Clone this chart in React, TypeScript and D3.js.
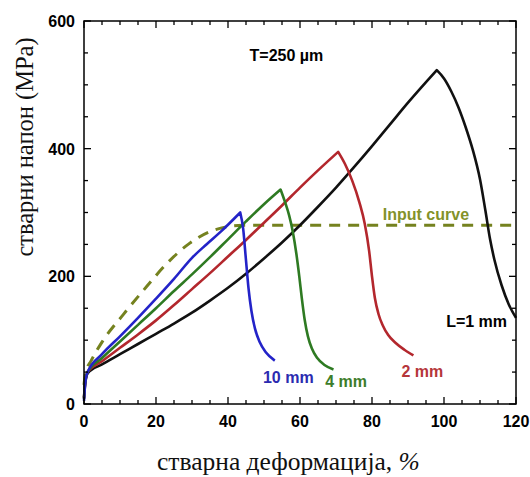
import React from "react";
import * as d3 from "d3";

const WIDTH = 530;
const HEIGHT = 477;

// stress-strain curves: [strain %, stress MPa]
const curve1mm: [number, number][] = [
  [0, 8], [0.3, 30], [1, 48], [5, 62], [10, 78], [15, 94], [20, 110],
  [25, 126], [30, 143], [35, 162], [40, 182], [45, 204], [50, 228],
  [55, 253], [60, 280], [65, 309], [70, 339], [75, 371], [80, 404],
  [85, 438], [90, 472], [98, 523],
  [100, 510], [102, 490], [104, 465], [106, 434], [108, 398], [110, 352],
  [111.5, 303], [112.8, 258], [114, 226], [116, 186], [118, 156], [120, 135],
];
const curve2mm: [number, number][] = [
  [0, 10], [0.3, 32], [1, 50], [5, 67], [10, 88], [15, 109], [20, 131],
  [25, 155], [30, 180], [35, 205], [40, 231], [45, 257], [50, 284],
  [55, 311], [60, 339], [65, 366], [70.6, 395],
  [72.5, 376], [74.5, 350], [76.5, 316], [78, 282], [79.2, 240],
  [80, 200], [80.8, 166], [81.8, 141], [83, 123], [84.5, 108],
  [86.5, 96], [89, 85], [91.5, 76],
];
const curve4mm: [number, number][] = [
  [0, 10], [0.3, 33], [1, 50], [5, 72], [10, 98], [15, 124], [20, 150],
  [25, 177], [30, 203], [35, 230], [40, 258], [45, 286], [50, 313],
  [54.6, 336],
  [55.8, 317], [57, 295], [58, 270], [59, 235], [59.8, 200], [60.5, 166],
  [61.3, 132], [62.2, 106], [63.3, 87], [64.8, 72], [66.8, 61], [69.3, 54],
];
const curve10mm: [number, number][] = [
  [0, 5], [0.3, 30], [1, 50], [5, 78], [10, 106], [15, 135], [20, 165],
  [25, 196], [30, 229], [34, 250], [38, 270], [43.4, 300],
  [44.2, 275], [45, 225], [45.7, 181], [46.5, 146], [47.5, 118],
  [48.8, 97], [50.5, 81], [53, 68],
];
const inputCurve: [number, number][] = [
  [0, 30], [0.5, 50], [2, 68], [5, 97], [10.9, 140], [17.4, 184],
  [23, 220], [29.4, 252], [35, 270], [40, 278], [44, 280], [120, 280],
];

const xTicks = [0, 20, 40, 60, 80, 100, 120];
const yTicks = [0, 200, 400, 600];

const series = [
  { name: "L=1 mm", data: curve1mm, color: "#111111" },
  { name: "2 mm", data: curve2mm, color: "#b3272d" },
  { name: "4 mm", data: curve4mm, color: "#2e7a22" },
  { name: "10 mm", data: curve10mm, color: "#2323c8" },
];

const x = d3.scaleLinear().domain([0, 120]).range([84, 516]);
const y = d3.scaleLinear().domain([0, 600]).range([404, 21]);

const line = d3
  .line<[number, number]>()
  .x((d) => x(d[0]))
  .y((d) => y(d[1]))
  .curve(d3.curveMonotoneX);

// split at the peak so the tip stays sharp
function pathFor(data: [number, number][]) {
  const i = d3.maxIndex(data, (d) => d[1]);
  const rise = line(data.slice(0, i + 1)) || "";
  const fall = line(data.slice(i)) || "";
  return rise + fall.replace(/^M/, "L");
}

const tickFont = "'Liberation Sans', Arial, sans-serif";
const serif = "'Liberation Serif', 'Times New Roman', serif";

export default function App() {
  const [x0, x1] = x.range();
  const [y0, y1] = y.range();
  return (
    <svg
      width={WIDTH}
      height={HEIGHT}
      style={{ position: "absolute", left: 0, top: 0, background: "#fff" }}
    >
      {/* curves */}
      <path
        d={line(inputCurve) || ""}
        fill="none"
        stroke="#75821f"
        strokeWidth={3}
        strokeDasharray="11,8"
      />
      {series.map((s) => (
        <path
          key={s.name}
          d={pathFor(s.data)}
          fill="none"
          stroke={s.color}
          strokeWidth={2.6}
          strokeLinejoin="round"
        />
      ))}

      {/* frame */}
      <rect
        x={x0}
        y={y1}
        width={x1 - x0}
        height={y0 - y1}
        fill="none"
        stroke="#000"
        strokeWidth={1.5}
      />

      {/* minor + major ticks, all pointing inward */}
      <g stroke="#000" strokeWidth={1.3}>
        {x.ticks(24).map((t) => {
          const len = t % 20 === 0 ? 7 : 4;
          return (
            <g key={"x" + t}>
              <line x1={x(t)} x2={x(t)} y1={y0} y2={y0 - len} />
              <line x1={x(t)} x2={x(t)} y1={y1} y2={y1 + len} />
            </g>
          );
        })}
        {y.ticks(12).map((t) => {
          const len = t % 200 === 0 ? 7 : 4;
          return (
            <g key={"y" + t}>
              <line x1={x0} x2={x0 + len} y1={y(t)} y2={y(t)} />
              <line x1={x1} x2={x1 - len} y1={y(t)} y2={y(t)} />
            </g>
          );
        })}
      </g>

      {/* tick labels */}
      <g fontFamily={tickFont} fontWeight="bold" fontSize={16} fill="#000">
        {xTicks.map((t) => (
          <text key={"xl" + t} x={x(t)} y={y0 + 23} textAnchor="middle">
            {t}
          </text>
        ))}
        {yTicks.map((t) => (
          <text key={"yl" + t} x={x0 - 9} y={y(t) + 6} textAnchor="end">
            {t}
          </text>
        ))}
      </g>

      {/* axis titles */}
      <text x={157} y={470} fontFamily={serif} fontSize={25.5} fill="#111">
        стварна деформација, <tspan fontStyle="italic">%</tspan>
      </text>
      <text
        transform="translate(33,147) rotate(-90)"
        textAnchor="middle"
        fontFamily={serif}
        fontSize={24.5}
        fill="#111"
      >
        стварни напон (MPa)
      </text>

      {/* annotations */}
      <g fontFamily={tickFont} fontWeight="bold" fontSize={16}>
        <text x={x(46)} y={y(538)} fill="#000">
          T=250 µm
        </text>
        <text x={x(83)} y={y(288)} fill="#83922a">
          Input curve
        </text>
        <text x={x(100.6)} y={y(121)} fill="#000">
          L=1 mm
        </text>
        <text x={x(49.7)} y={y(33)} fill="#2b2bb0">
          10 mm
        </text>
        <text x={x(67)} y={y(26)} fill="#3d7d2a">
          4 mm
        </text>
        <text x={x(88.2)} y={y(42)} fill="#b5363a">
          2 mm
        </text>
      </g>
    </svg>
  );
}
